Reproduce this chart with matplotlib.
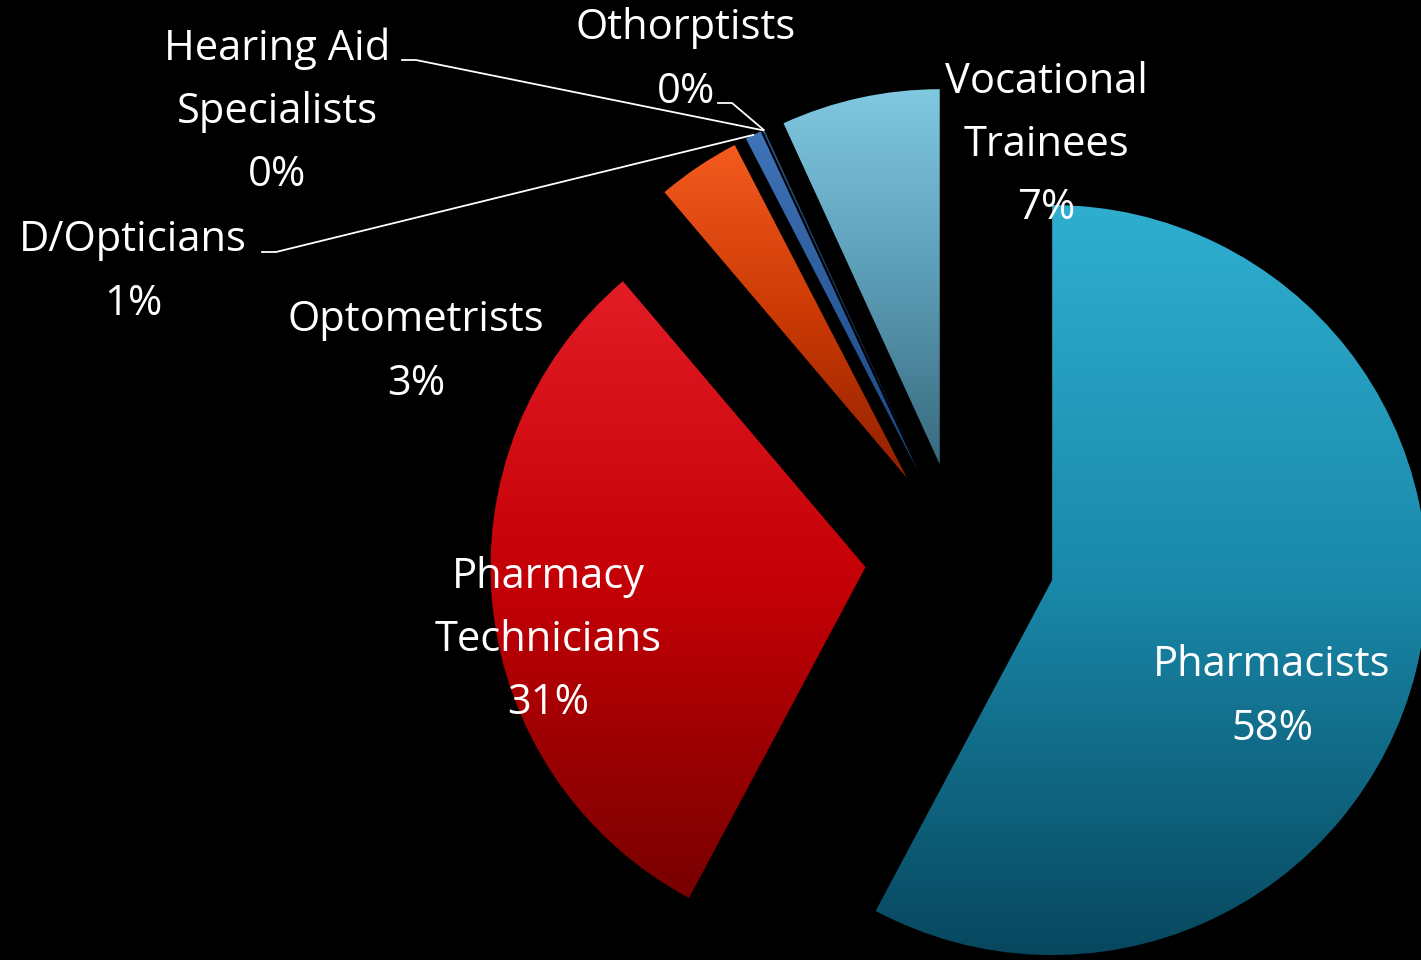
import numpy as np
import matplotlib.pyplot as plt
from matplotlib.colors import LinearSegmentedColormap

# --- data ---
categories = ['Pharmacists', 'Pharmacy\nTechnicians', 'Optometrists', 'D/Opticians',
              'Hearing Aid\nSpecialists', 'Othorptists', 'Vocational\nTrainees']
shares = [57.8, 31.0, 3.6, 0.7, 0.03, 0.03, 6.84]
pct_labels = ['58%', '31%', '3%', '1%', '0%', '0%', '7%']

# gradient colours (top -> middle -> bottom) for each wedge
top_colors = ['#2FAED0', '#E31C25', '#F45B1F', '#3F74B8', '#3F74B8', '#3F74B8', '#80C8E0']
mid_colors = ['#1A89AA', '#C30006', '#CC3A05', '#2C5C9C', '#2C5C9C', '#2C5C9C', '#5C9DB6']
bottom_colors = ['#07475E', '#780000', '#922000', '#1B4580', '#1B4580', '#1B4580', '#386A7E']

# label block centres in pixel coords (y down) and which ones get a leader line
label_pos = [(1272, 697), (548, 640), (416, 352), (133, 272), (277, 112), (686, 60), (1046, 145)]
leader = [False, False, False, True, True, True, False]

W, H = 1421, 960
fig = plt.figure(figsize=(W / 100, H / 100), dpi=100, facecolor='black')
ax = fig.add_axes([0, 0, 1, 1])
ax.set_facecolor('black')

# y axis inverted, so counterclock=True + startangle=-90 runs clockwise from 12 o'clock
wedges, _ = ax.pie(shares, center=(960, 557), radius=375, explode=[95] * len(shares),
                   startangle=-90, counterclock=True,
                   wedgeprops=dict(edgecolor='none', linewidth=0), frame=True)

grad = np.linspace(0, 1, 256).reshape(-1, 1)
for w, c0, cm, c1 in zip(wedges, top_colors, mid_colors, bottom_colors):
    w.set_facecolor('none')
    verts = w.get_patch_transform().transform(w.get_path().vertices)
    x0, y0 = verts.min(axis=0)
    x1, y1 = verts.max(axis=0)
    cmap = LinearSegmentedColormap.from_list('g', [c0, cm, c1])
    im = ax.imshow(grad, cmap=cmap, aspect='auto', extent=(x0, x1, y1, y0),
                   origin='upper', interpolation='bicubic', zorder=1)
    im.set_clip_path(w)

font = 'Open Sans'
for i, (w, name, pct) in enumerate(zip(wedges, categories, pct_labels)):
    tx, ty = label_pos[i]
    ax.text(tx, ty, name + '\n' + pct, color='white', fontsize=30, family=font,
            ha='center', va='center', linespacing=1.66, zorder=5)

# leader lines from the tiny wedges' outer tips to their labels
line_start = {3: (262, 252), 4: (402, 60), 5: (718, 103)}
for i, w in enumerate(wedges):
    if not leader[i]:
        continue
    cx, cy = w.center
    mid = np.deg2rad((w.theta1 + w.theta2) / 2)
    tip = (cx + w.r * np.cos(mid), cy + w.r * np.sin(mid))
    sx, sy = line_start[i]
    ax.plot([sx, sx + 14, tip[0]], [sy, sy, tip[1]], color='white', lw=1.3, zorder=4)

ax.set_xlim(0, W)
ax.set_ylim(H, 0)
ax.set_aspect('equal')
ax.axis('off')

plt.savefig('out.png', dpi=100, facecolor='black')
